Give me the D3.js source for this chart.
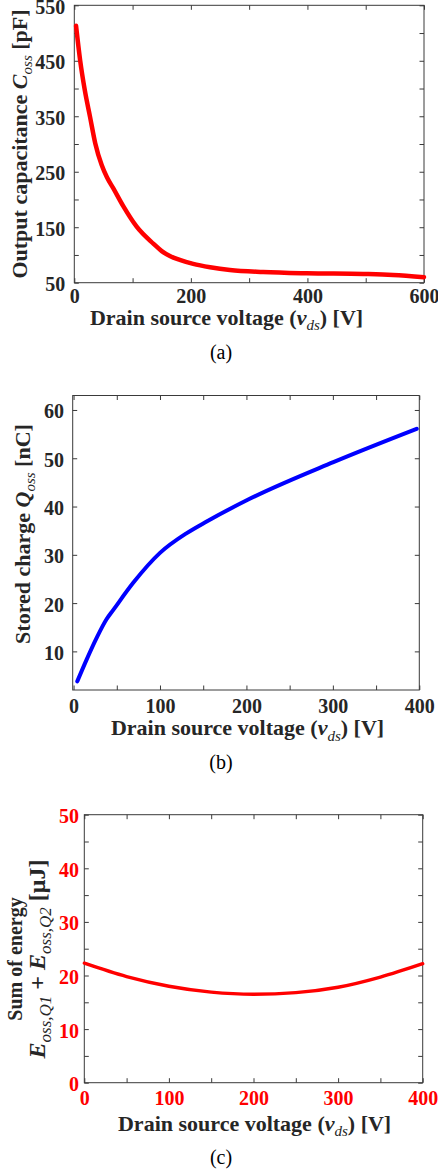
<!DOCTYPE html>
<html>
<head>
<meta charset="utf-8">
<script src="https://cdn.jsdelivr.net/npm/d3@7"></script>
<style>
  html, body { margin: 0; padding: 0; background: #ffffff; }
  svg { display: block; }
  text { font-family: "Liberation Serif", "Times New Roman", serif; }
</style>
</head>
<body>
<svg id="fig" width="438" height="1175"></svg>
<script>
// ---- (a) Output capacitance vs drain-source voltage ----
const cossVoltage = [3, 10, 18, 27, 36, 47, 56, 67, 84, 107, 136, 150, 164, 181, 204, 233, 267, 324, 399, 496, 547, 600];
const cossValue   = [513, 451, 397, 349, 301, 262, 240, 220, 188, 151, 120, 107, 98, 91, 84, 78, 73, 69.3, 67, 65.7, 64, 60];
const cossXTicks = [0, 100, 200, 300, 400, 500, 600];
const cossXLabels = [0, 200, 400, 600];
const cossYTicks = [50, 100, 150, 200, 250, 300, 350, 400, 450, 500, 550];
const cossYLabels = [50, 150, 250, 350, 450, 550];

// ---- (b) Stored charge vs drain-source voltage ----
const qossVoltage = [4.3, 15.1, 26.7, 38.3, 46, 69, 100, 131, 154, 201.5, 300.6, 397];
const qossValue   = [3.8, 8.3, 12.8, 16.7, 18.6, 24.2, 30.4, 34.5, 36.9, 41.4, 49.2, 56.1];
const qossXTicks = [0, 50, 100, 150, 200, 250, 300, 350, 400];
const qossXLabels = [0, 100, 200, 300, 400];
const qossYTicks = [10, 20, 30, 40, 50, 60];
const qossYLabels = [10, 20, 30, 40, 50, 60];

// ---- (c) Sum of stored energy of both switches ----
const eossVoltage = [0, 50, 100, 150, 200, 250, 300, 350, 400];
const eossValue   = [22.3, 19.8, 18.0, 16.9, 16.5, 16.8, 17.8, 19.7, 22.2];
const eossXTicks = [0, 50, 100, 150, 200, 250, 300, 350, 400];
const eossXLabels = [0, 100, 200, 300, 400];
const eossYTicks = [0, 5, 10, 15, 20, 25, 30, 35, 40, 45, 50];
const eossYLabels = [0, 10, 20, 30, 40, 50];

const INK = "#262626";
const svg = d3.select("#fig");

// Writes a run of styled pieces (italic / bold / subscript) into a text element.
function richText(textSel, parts, size, subRatio) {
  const subSize = Math.round(size * (subRatio || 0.68));
  const shift = size * 0.25;
  let lowered = false;
  parts.forEach(p => {
    const ts = textSel.append("tspan").text(p.t)
      .attr("font-style", p.italic ? "italic" : "normal")
      .attr("font-weight", p.bold === false ? "normal" : "bold")
      .attr("font-size", p.sub ? subSize : size);
    if (p.sub && !lowered) { ts.attr("dy", shift); lowered = true; }
    else if (!p.sub && lowered) { ts.attr("dy", -shift); lowered = false; }
  });
}

function drawPanel(cfg) {
  const g = svg.append("g");
  const x = d3.scaleLinear().domain(cfg.xDomain).range([cfg.left, cfg.right]);
  const y = d3.scaleLinear().domain(cfg.yDomain).range([cfg.bottom, cfg.top]);
  const tick = 4.5;

  const fmtX = d => cfg.xLabels.includes(d) ? d : "";
  const fmtY = d => cfg.yLabels.includes(d) ? d : "";

  const axes = [
    g.append("g").attr("transform", `translate(0,${cfg.bottom})`)
      .call(d3.axisBottom(x).tickValues(cfg.xTicks).tickSizeInner(-tick).tickSizeOuter(0)
        .tickPadding(cfg.xPad).tickFormat(fmtX)),
    g.append("g").attr("transform", `translate(${cfg.left},0)`)
      .call(d3.axisLeft(y).tickValues(cfg.yTicks).tickSizeInner(-tick).tickSizeOuter(0)
        .tickPadding(cfg.yPad).tickFormat(fmtY)),
    g.append("g").attr("transform", `translate(0,${cfg.top})`)
      .call(d3.axisTop(x).tickValues(cfg.xTicks).tickSizeInner(-tick).tickSizeOuter(0).tickFormat("")),
    g.append("g").attr("transform", `translate(${cfg.right},0)`)
      .call(d3.axisRight(y).tickValues(cfg.yTicks).tickSizeInner(-tick).tickSizeOuter(0).tickFormat(""))
  ];
  axes.forEach((a, i) => {
    a.select(".domain").remove();
    a.selectAll(".tick line").attr("stroke", "#3a3a3a").attr("stroke-width", 1);
    // unlabelled ticks keep no empty text nodes
    a.selectAll(".tick text").filter(function () { return this.textContent === ""; }).remove();
    a.selectAll(".tick text")
      .attr("fill", cfg.tickColor)
      .attr("font-family", '"Liberation Serif", "Times New Roman", serif')
      .attr("font-weight", "bold")
      .attr("font-size", 20);
    if (i === 1) a.selectAll(".tick text").attr("dy", "0.4em");
  });

  // axes box
  g.append("rect")
    .attr("x", cfg.left).attr("y", cfg.top)
    .attr("width", cfg.right - cfg.left).attr("height", cfg.bottom - cfg.top)
    .attr("fill", "none").attr("stroke", "#3a3a3a").attr("stroke-width", 1);

  // data curve
  const line = d3.line().x(d => x(d[0])).y(d => y(d[1])).curve(d3.curveMonotoneX);
  g.append("path")
    .datum(d3.zip(cfg.xs, cfg.ys))
    .attr("d", line)
    .attr("fill", "none")
    .attr("stroke", cfg.color)
    .attr("stroke-width", cfg.width)
    .attr("stroke-linecap", "round")
    .attr("stroke-linejoin", "round");

  // x-axis title
  const xt = g.append("text")
    .attr("x", cfg.xTitleX).attr("y", cfg.xTitleY)
    .attr("text-anchor", "middle").attr("fill", INK);
  richText(xt, [
    { t: "Drain source voltage (" },
    { t: "v", italic: true },
    { t: "ds", italic: true, sub: true, bold: false },
    { t: ") [V]" }
  ], 22);

  // y-axis title line(s)
  cfg.yTitles.forEach(yt => {
    const t = g.append("text")
      .attr("transform", `translate(${yt.x},${cfg.yTitleY}) rotate(-90)`)
      .attr("text-anchor", "middle").attr("fill", INK);
    richText(t, yt.parts, yt.size, yt.subRatio);
  });

  // panel caption
  g.append("text")
    .attr("x", 221).attr("y", cfg.captionY)
    .attr("text-anchor", "middle").attr("fill", "#000")
    .attr("font-size", 20)
    .text(cfg.caption);
}

drawPanel({
  left: 74.3, right: 424, top: 5.3, bottom: 282.7,
  xDomain: [0, 600], yDomain: [50, 550],
  xTicks: cossXTicks, xLabels: cossXLabels, yTicks: cossYTicks, yLabels: cossYLabels,
  xPad: 6, yPad: 9, tickColor: INK,
  xs: cossVoltage, ys: cossValue, color: "#ff0000", width: 4.5,
  xTitleX: 226.5, xTitleY: 324.5,
  yTitleY: 144,
  yTitles: [{ x: 26.5, size: 22, parts: [
    { t: "Output capacitance " },
    { t: "C", italic: true },
    { t: "oss", italic: true, sub: true, bold: false },
    { t: " [pF]" }
  ]}],
  caption: "(a)", captionY: 359
});

drawPanel({
  left: 72.7, right: 419.3, top: 395.5, bottom: 690,
  xDomain: [-1, 400], yDomain: [2, 63],
  xTicks: qossXTicks, xLabels: qossXLabels, yTicks: qossYTicks, yLabels: qossYLabels,
  xPad: 8.3, yPad: 8.7, tickColor: INK,
  xs: qossVoltage, ys: qossValue, color: "#0000ff", width: 4,
  xTitleX: 247.5, xTitleY: 735,
  yTitleY: 534,
  yTitles: [{ x: 29.5, size: 22, parts: [
    { t: "Stored charge " },
    { t: "Q", italic: true },
    { t: "oss", italic: true, sub: true, bold: false },
    { t: " [nC]" }
  ]}],
  caption: "(b)", captionY: 769
});

drawPanel({
  left: 84.3, right: 422.7, top: 814.7, bottom: 1082.7,
  xDomain: [0, 400], yDomain: [0, 50],
  xTicks: eossXTicks, xLabels: eossXLabels, yTicks: eossYTicks, yLabels: eossYLabels,
  xPad: 8, yPad: 5.3, tickColor: "#ff0000",
  xs: eossVoltage, ys: eossValue, color: "#ff0000", width: 3.4,
  xTitleX: 254.6, xTitleY: 1130.5,
  yTitleY: 959,
  yTitles: [
    { x: 21.7, size: 20, parts: [{ t: "Sum of energy" }] },
    { x: 45, size: 24, subRatio: 0.72, parts: [
      { t: "E", italic: true },
      { t: "oss,Q1", italic: true, sub: true, bold: false },
      { t: " + " },
      { t: "E", italic: true },
      { t: "oss,Q2", italic: true, sub: true, bold: false },
      { t: " [\u03BCJ]" }
    ]}
  ],
  caption: "(c)", captionY: 1164
});
</script>
</body>
</html>
